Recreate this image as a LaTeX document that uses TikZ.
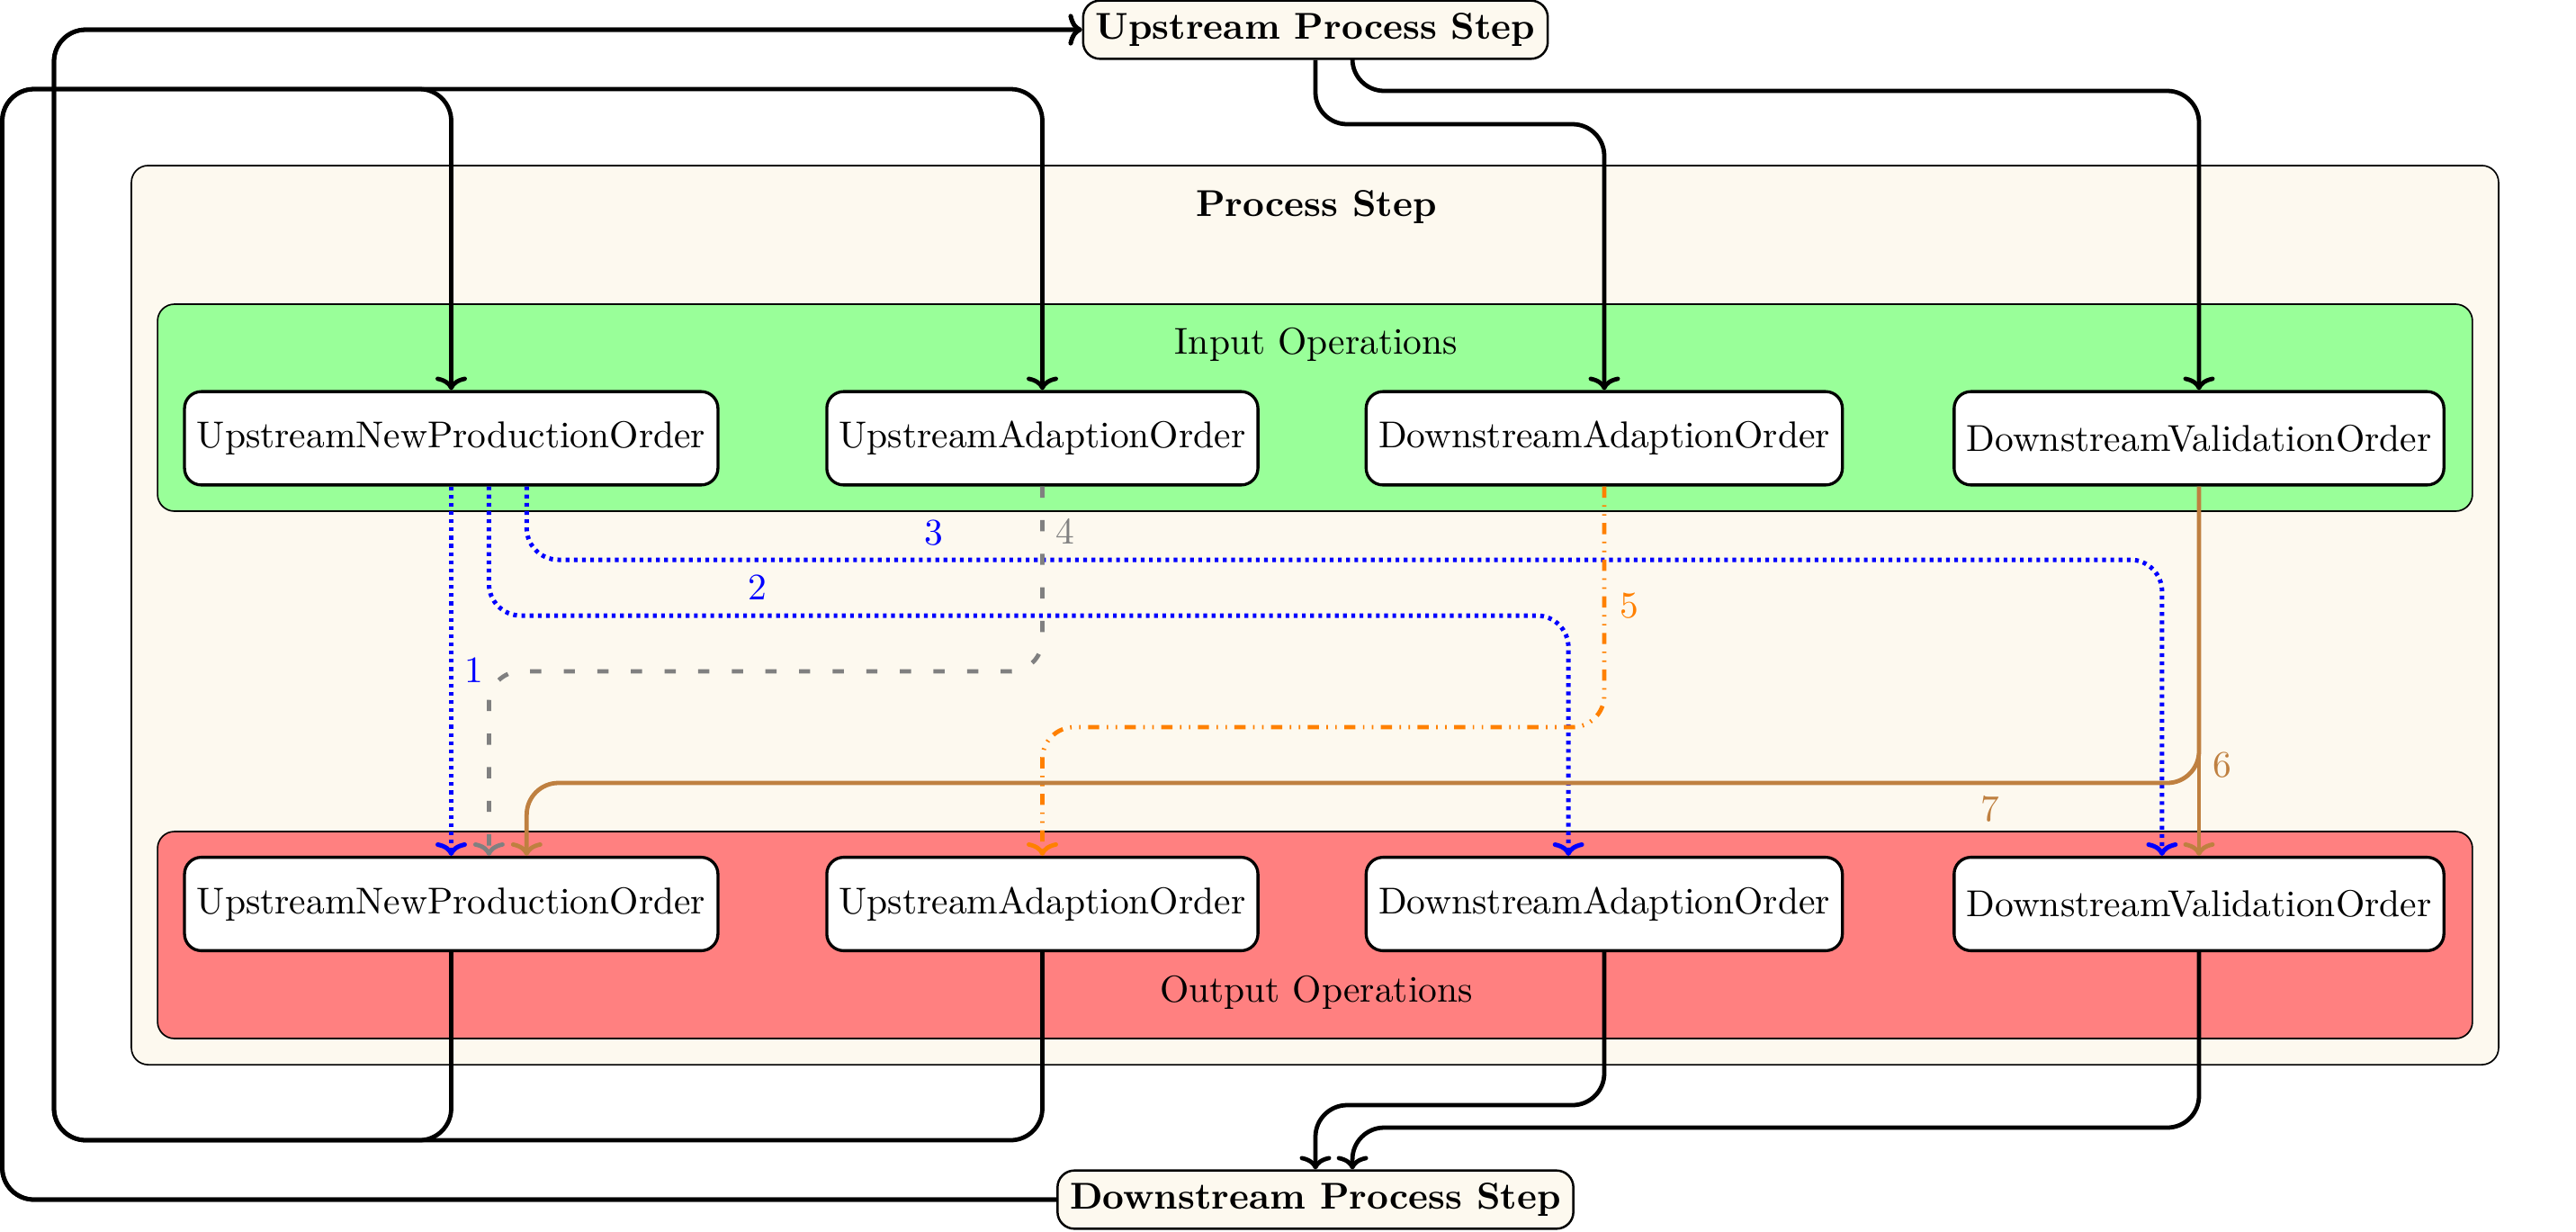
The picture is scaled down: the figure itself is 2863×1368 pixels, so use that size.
\documentclass[tikz,border=0pt]{standalone}
\usetikzlibrary{arrows.meta}
\definecolor{cream}{HTML}{FDF9EF}
\definecolor{opgreen}{HTML}{99FF99}
\definecolor{opred}{HTML}{FF8080}
\definecolor{brn}{rgb}{0.75,0.5,0.25}
\definecolor{org}{rgb}{1,0.5,0}
\begin{document}
\begin{tikzpicture}[x=0.2409pt,y=-0.2409pt,
  arr/.style={-{Computer Modern Rightarrow[length=3.6pt,width=8.4pt]}},
  conn/.style={line width=1.15pt, rounded corners=8.5pt, arr},
  op/.style={draw, line width=0.8pt, fill=white, rounded corners=4.5pt, minimum height=25pt},
  ext/.style={draw, semithick, fill=cream, rounded corners=4.5pt, font=\bfseries},
  box/.style={draw, rounded corners=4.5pt},
  lab/.style={inner sep=0pt},
  bluel/.style={conn, line width=1.2pt, blue, dash pattern=on 1pt off 1.2pt},
  grayl/.style={conn, gray, dash pattern=on 3pt off 6pt},
  orgl/.style={conn, org, dash pattern=on 3pt off 2pt on 0.4pt off 2pt on 0.4pt off 2pt},
  brnl/.style={conn, brn},
]
\useasboundingbox (0,0) rectangle (2863,1368);

% containers
\node[box, fill=cream, minimum width=633.8pt, minimum height=240.7pt] (ps) at (1461.5,683.5) {};
\node[box, fill=opgreen, minimum width=619.8pt, minimum height=55.4pt] (inops) at (1461.5,453) {};
\node[box, fill=opred, minimum width=619.8pt, minimum height=55.4pt] (outops) at (1461.5,1039) {};

\node[lab, font=\bfseries] (pslab) at (1463,230) {Process Step};
\node[lab] (inlab) at (1463,383) {Input Operations};
\node[lab] (outlab) at (1463,1103) {Output Operations};

% operation nodes
\node[op] (ui1) at (501.5,487) {UpstreamNewProductionOrder};
\node[op] (ui2) at (1158.5,487) {UpstreamAdaptionOrder};
\node[op] (ui3) at (1783,487) {DownstreamAdaptionOrder};
\node[op] (ui4) at (2444,487) {DownstreamValidationOrder};

\node[op] (uo1) at (501.5,1004.5) {UpstreamNewProductionOrder};
\node[op] (uo2) at (1158.5,1004.5) {UpstreamAdaptionOrder};
\node[op] (uo3) at (1783,1004.5) {DownstreamAdaptionOrder};
\node[op] (uo4) at (2444,1004.5) {DownstreamValidationOrder};

% external steps
\node[ext] (up) at (1462,33) {Upstream Process Step};
\node[ext] (dn) at (1462,1333) {Downstream Process Step};

% helper coordinates
\coordinate (lft) at (2.5,99);
\coordinate (lft2) at (60,1267);
\coordinate (h5) at (1600,138);
\coordinate (h6) at (2000,101);
\coordinate (h7) at (1600,1228);
\coordinate (h8) at (2000,1253);
\coordinate (b2) at (1000,684);
\coordinate (b3) at (1500,622);
\coordinate (g4) at (800,746);
\coordinate (o5) at (1500,808);
\coordinate (r7) at (1500,870);

% black connectors
\draw[conn] (dn.west) -| (lft) -| (ui1.north);
\draw[conn] (dn.west) -| (lft) -| (ui2.north);
\draw[conn] (uo1.south) |- (lft2) |- (up.west);
\draw[conn] (uo2.south) |- (lft2) |- (up.west);
\draw[conn] (up.south) |- (h5) -| (ui3.north);
\draw[conn] ([xshift=9.9pt]up.south) |- (h6) -| (ui4.north);
\draw[conn] (uo3.south) |- (h7) -| (dn.north);
\draw[conn] (uo4.south) |- (h8) -| ([xshift=9.9pt]dn.north);

% coloured connectors
\draw[bluel] (ui1.south) -- (uo1.north);
\draw[bluel] ([xshift=10.1pt]ui1.south) |- (b2) -| ([xshift=-9.6pt]uo3.north);
\draw[bluel] ([xshift=20.2pt]ui1.south) |- (b3) -| ([xshift=-9.9pt]uo4.north);
\draw[grayl] (ui2.south) |- (g4) -| ([xshift=10.1pt]uo1.north);
\draw[orgl] (ui3.south) |- (o5) -| (uo2.north);
\draw[brnl] (ui4.south) -- (uo4.north);
\draw[brnl] (ui4.south) |- (r7) -| ([xshift=20.2pt]uo1.north);

% labels
\node[lab, text=blue] (n1) at (527,745) {1};
\node[lab, text=blue] (n2) at (842,653) {2};
\node[lab, text=blue] (n3) at (1038,592) {3};
\node[lab, text=gray] (n4) at (1184,590) {4};
\node[lab, text=org] (n5) at (1811,673) {5};
\node[lab, text=brn] (n6) at (2470,850) {6};
\node[lab, text=brn] (n7) at (2212,899) {7};
\end{tikzpicture}
\end{document}
